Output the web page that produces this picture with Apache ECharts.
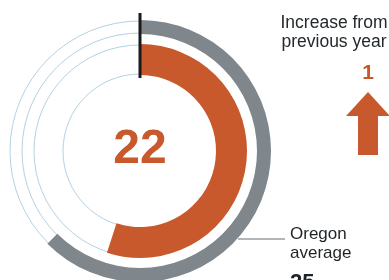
<!DOCTYPE html>
<html>
<head>
<meta charset="utf-8">
<script src="https://cdn.jsdelivr.net/npm/echarts@6/dist/echarts.min.js"></script>
<style>
    html, body { margin: 0; padding: 0; background: #ffffff; }
    #chart { width: 389px; height: 280px; }
</style>
</head>
<body>
<div id="chart"></div>
<script>
// values
const scaleMax    = 40
const countValue  = [22]
const avgValue    = [25]
const changeValue = [1]
const avgLabel    = ['Oregon', 'average']
const changeLabel = ['Increase from', 'previous year']

const ORANGE = '#c8592c'
const GRAY   = '#80878c'
const RING   = '#b3d2e3'
const FONT   = 'Liberation Sans, Arial, sans-serif'

// ring geometry
const cx = 140, cy = 151
const avgR = 131, avgW = 14
const valR = 107, valW = 31
const trackRadii = [130, 118, 106, 77]

function gaugeBase(radius) {
    return {
        type: 'gauge',
        center: [cx, cy],
        radius: radius,
        startAngle: 90,
        endAngle: -270,
        clockwise: true,
        min: 0,
        max: scaleMax,
        axisLine:  { show: false },
        axisTick:  { show: false },
        splitLine: { show: false },
        axisLabel: { show: false },
        pointer:   { show: false },
        anchor:    { show: false },
        title:     { show: false },
        silent: true,
    }
}

const chart = echarts.init(document.getElementById('chart'))

chart.setOption({
    animation: false,
    backgroundColor: '#ffffff',
    series: [
        Object.assign(gaugeBase(avgR), {
            z: 3,
            progress: { show: true, overlap: true, width: avgW, itemStyle: { color: GRAY } },
            detail: { show: false },
            data: [{ value: avgValue[0] }],
        }),
        Object.assign(gaugeBase(valR), {
            z: 4,
            progress: { show: true, overlap: true, width: valW, itemStyle: { color: ORANGE } },
            detail: {
                show: true,
                offsetCenter: [0, -1],
                formatter: '{value}',
                color: ORANGE,
                fontSize: 48,
                fontWeight: 'bold',
                fontFamily: FONT,
            },
            data: [{ value: countValue[0] }],
        }),
    ],
    graphic: [
        // thin track circles behind the rings
        ...trackRadii.map(r => ({
            type: 'circle',
            z: 1,
            silent: true,
            shape: { cx: cx, cy: cy, r: r },
            style: { fill: 'none', stroke: RING, lineWidth: 1 },
        })),
        // start marker
        {
            type: 'line',
            z: 10,
            shape: { x1: cx, y1: cy - 138, x2: cx, y2: cy - 73 },
            style: { stroke: '#1a1a1a', lineWidth: 3 },
        },
        // right side: change from previous year
        {
            type: 'text',
            z: 10,
            style: {
                x: 334, y: 14,
                text: changeLabel.join('\n'),
                font: '17.5px ' + FONT,
                lineHeight: 19,
                fill: '#24292c',
                align: 'center',
                verticalAlign: 'top',
            },
        },
        {
            type: 'text',
            z: 10,
            style: {
                x: 368, y: 73,
                text: String(changeValue[0]),
                font: 'bold 21px ' + FONT,
                fill: ORANGE,
                align: 'center',
                verticalAlign: 'middle',
            },
        },
        {
            type: 'polygon',
            z: 10,
            shape: { points: [[368, 92], [390, 116], [378, 116], [378, 155], [358, 155], [358, 116], [346, 116]] },
            style: { fill: ORANGE },
        },
        // Oregon average callout
        {
            type: 'line',
            z: 10,
            shape: { x1: 238, y1: 239, x2: 285, y2: 239 },
            style: { stroke: '#9a9ea1', lineWidth: 1.5 },
        },
        {
            type: 'text',
            z: 10,
            style: {
                x: 290, y: 225,
                text: avgLabel.join('\n'),
                font: '17px ' + FONT,
                lineHeight: 19,
                fill: '#1f2326',
                align: 'left',
                verticalAlign: 'top',
            },
        },
        {
            type: 'text',
            z: 10,
            style: {
                x: 290, y: 283,
                text: String(avgValue[0]),
                font: 'bold 22px ' + FONT,
                fill: '#1f2326',
                align: 'left',
                verticalAlign: 'middle',
            },
        },
    ],
})
</script>
</body>
</html>
